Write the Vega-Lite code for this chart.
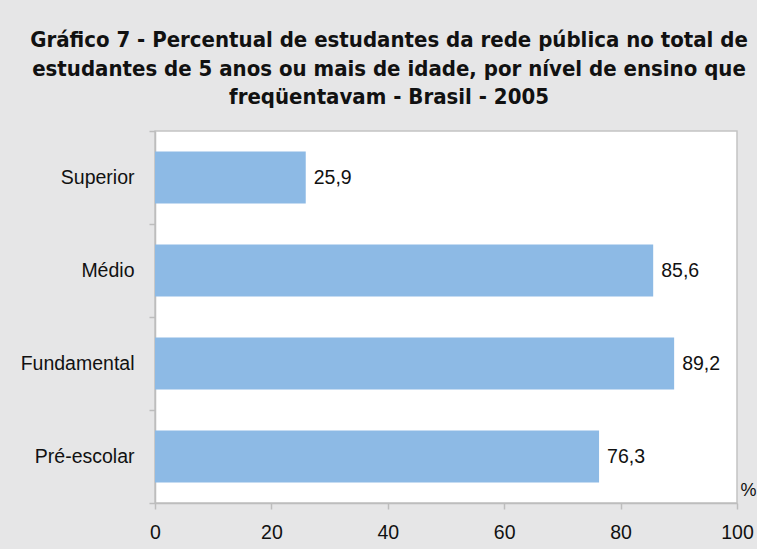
{
  "$schema": "https://vega.github.io/schema/vega-lite/v6.json",
  "width": 582,
  "height": 372,
  "autosize": {"type": "none"},
  "padding": {"left": 155, "top": 131, "right": 20, "bottom": 46},
  "background": "#e6e6e7",
  "title": {
    "text": ["Gráfico 7 - Percentual de estudantes da rede pública no total de", "estudantes de 5 anos ou mais de idade, por nível de ensino que", "freqüentavam - Brasil - 2005"],
    "anchor": "middle",
    "frame": "group",
    "dx": -57,
    "offset": 12,
    "font": "DejaVu Sans Condensed",
    "fontSize": 22,
    "fontWeight": "bold",
    "lineHeight": 28.5,
    "color": "#111111"
  },
  "data": {
    "values": [
      {"nivel": "Superior", "valor": 25.9, "rotulo": "25,9"},
      {"nivel": "Médio", "valor": 85.6, "rotulo": "85,6"},
      {"nivel": "Fundamental", "valor": 89.2, "rotulo": "89,2"},
      {"nivel": "Pré-escolar", "valor": 76.3, "rotulo": "76,3"}
    ]
  },
  "config": {
    "view": {"fill": "white", "stroke": "#c4c4c4", "strokeWidth": 1.5},
    "font": "Liberation Sans",
    "axis": {
      "labelFont": "Liberation Sans",
      "labelFontSize": 19.5,
      "labelColor": "#111111",
      "domainColor": "#bdbdbd",
      "domainWidth": 1.5,
      "tickColor": "#bdbdbd",
      "tickWidth": 1.5,
      "tickSize": 6,
      "grid": false
    }
  },
  "encoding": {
    "y": {
      "field": "nivel",
      "type": "nominal",
      "sort": null,
      "scale": {"paddingInner": 0, "paddingOuter": 0},
      "axis": {"title": null, "tickBand": "extent", "labelPadding": 15}
    },
    "x": {
      "field": "valor",
      "type": "quantitative",
      "scale": {"domain": [0, 100], "nice": false},
      "axis": {
        "values": [0, 20, 40, 60, 80, 100],
        "labelFlush": false,
        "labelPadding": 14,
        "title": "%",
        "titleFont": "Liberation Sans",
        "titleFontSize": 18,
        "titleFontWeight": "normal",
        "titleColor": "#111111",
        "titleX": 585,
        "titleY": -8,
        "titleAlign": "left",
        "titleBaseline": "alphabetic"
      }
    }
  },
  "layer": [
    {
      "mark": {"type": "bar", "color": "#8dbae5", "height": {"band": 0.56}}
    },
    {
      "mark": {"type": "text", "align": "left", "baseline": "middle", "dx": 8, "fontSize": 19.5, "color": "#111111"},
      "encoding": {"text": {"field": "rotulo"}}
    }
  ]
}
